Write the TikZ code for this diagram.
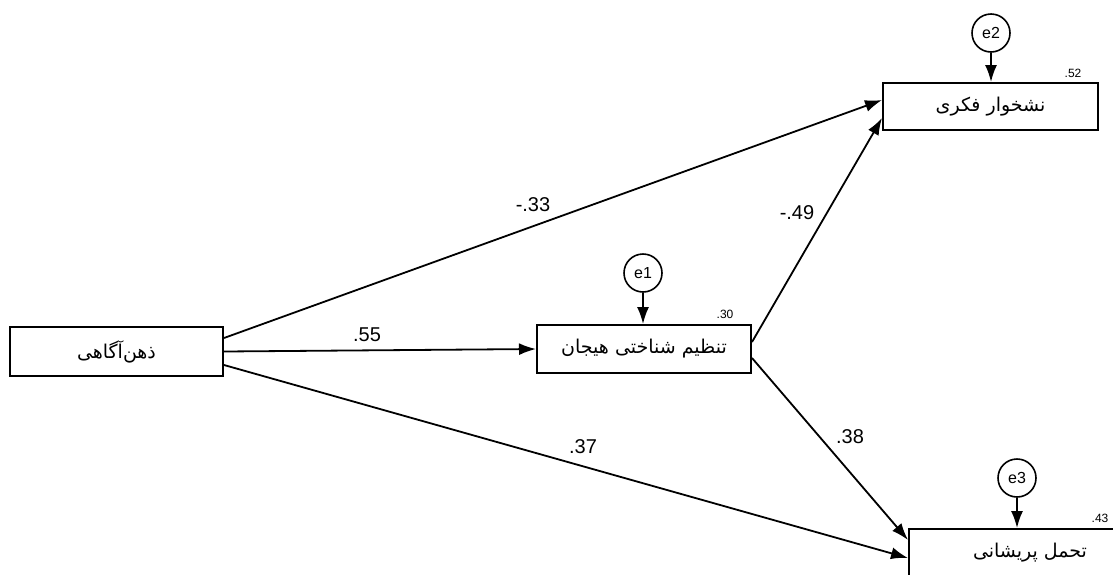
\documentclass[tikz,border=0pt]{standalone}
\usepackage{fontspec}
\setmainfont{Liberation Sans}
\newfontfamily\fa[Script=Arabic]{DejaVu Sans}
\TeXXeTstate=1
\usetikzlibrary{arrows.meta}
\begin{document}
\begin{tikzpicture}[x=1pt,y=-1pt,
 var/.style={draw, line width=2pt, minimum width=214pt, minimum height=48pt, inner sep=0pt, font=\fa\fontsize{19}{22}\selectfont},
 err/.style={draw, circle, line width=1.6pt, minimum size=38pt, inner sep=0pt, font=\fontsize{16}{18}\selectfont},
 arr/.style={-{Latex[length=17pt,width=12pt]}, line width=1.8pt},
 coef/.style={font=\fontsize{20}{24}\selectfont, inner sep=0pt},
 rsq/.style={font=\fontsize{12}{14}\selectfont, inner sep=0pt}]
\clip (0,0) rectangle (1113,574);
\fill[white] (0,0) rectangle (1113,574);
% variables
\node[var, minimum width=213pt, minimum height=49pt] (l) at (116.5,351.5) {\beginR ذهن‌آگاهی\endR};
\node[var] (m) at (644,349) {\beginR تنظیم شناختی هیجان\endR};
\node[var, minimum width=215pt, minimum height=47pt] (t) at (990.5,106.5) {\beginR نشخوار فکری\endR};
\node[var, minimum width=242pt] (b) at (1030,553) {\beginR تحمل پریشانی\endR};
% errors
\node[err] (e1) at (643,273) {e1};
\node[err] (e2) at (991,33) {e2};
\node[err] (e3) at (1017,478) {e3};
\draw[arr] (e1) -- (e1 |- m.north);
\draw[arr] (e2) -- (e2 |- t.north);
\draw[arr] (e3) -- (e3 |- b.north);
% paths
\draw[arr] (l.east) -- (m.west);
\draw[arr] ([yshift=13.5pt]l.east) -- ([yshift=6.5pt]t.west);
\draw[arr] ([yshift=-13.5pt]l.east) -- ([yshift=-5pt]b.west);
\draw[arr] ([yshift=7pt]m.east) -- ([yshift=-11.5pt]t.west);
\draw[arr] ([yshift=-9pt]m.east) -- ([yshift=13pt]b.west);
% coefficients
\node[coef] (c1) at (367,335) {.55};
\node[coef] (c2) at (533,205) {-.33};
\node[coef] (c3) at (583,447) {.37};
\node[coef] (c4) at (797,213) {-.49};
\node[coef] (c5) at (850,437) {.38};
% r squared
\node[rsq] (r1) at (725,314) {.30};
\node[rsq] (r2) at (1073,73) {.52};
\node[rsq] (r3) at (1100,518) {.43};
\end{tikzpicture}
\end{document}
